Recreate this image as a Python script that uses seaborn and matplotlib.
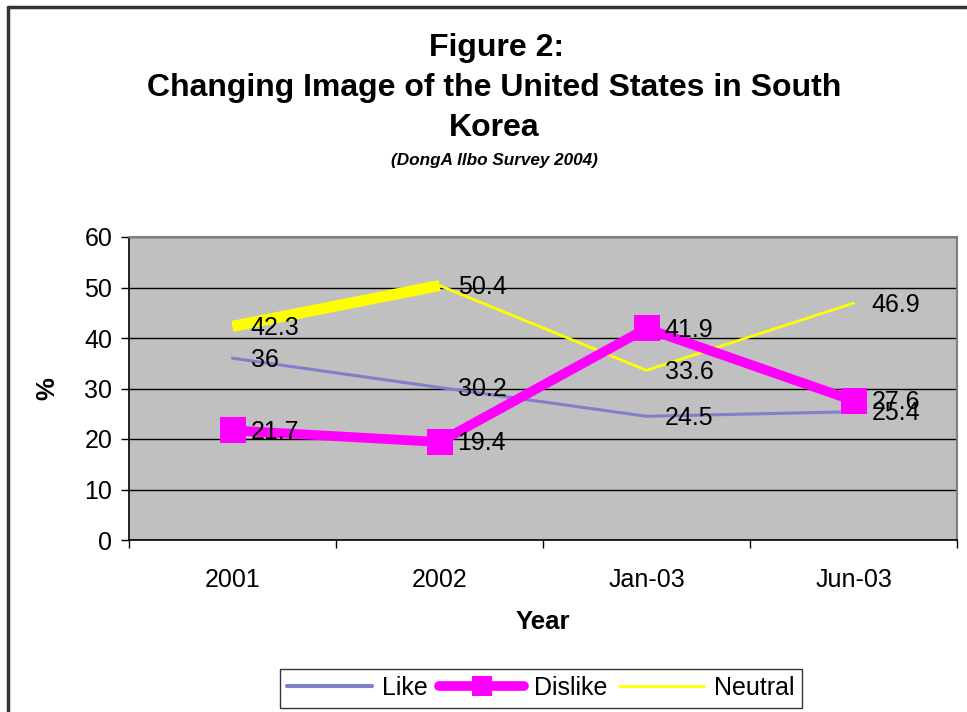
import matplotlib
matplotlib.use("Agg")
import matplotlib.pyplot as plt
import seaborn as sns
import pandas as pd
from matplotlib.lines import Line2D

categories = ["2001", "2002", "Jan-03", "Jun-03"]
like = [36, 30.2, 24.5, 25.4]
dislike = [21.7, 19.4, 41.9, 27.6]
neutral = [42.3, 50.4, 33.6, 46.9]
yticks = [0, 10, 20, 30, 40, 50, 60]

sns.set_theme(style="white")
plt.rcParams["font.family"] = ["Liberation Sans", "DejaVu Sans"]
plt.rcParams["text.color"] = "black"
plt.rcParams["axes.labelcolor"] = "black"
plt.rcParams["xtick.color"] = "black"
plt.rcParams["ytick.color"] = "black"

W, H = 967, 712
fig = plt.figure(figsize=(W / 100, H / 100), dpi=100)
ax = fig.add_axes([129 / W, 1 - 540 / H, (957 - 129) / W, (540 - 237) / H])
ax.set_facecolor("#C0C0C0")

pos = list(range(len(categories)))
df = pd.DataFrame({"pos": pos, "cat": categories, "Like": like,
                   "Dislike": dislike, "Neutral": neutral})

c_like = "#8080C8"
c_dis = "#FF00FF"
c_neu = "#FFFF00"

sns.lineplot(data=df, x="pos", y="Like", ax=ax, color=c_like, linewidth=2.2, zorder=4)
# Neutral: first segment thick, rest thin (as in reference)
sns.lineplot(data=df.iloc[:2], x="pos", y="Neutral", ax=ax, color=c_neu, linewidth=8,
             solid_capstyle="butt", zorder=3)
sns.lineplot(data=df.iloc[1:], x="pos", y="Neutral", ax=ax, color=c_neu, linewidth=2,
             zorder=3)
sns.lineplot(data=df, x="pos", y="Dislike", ax=ax, color=c_dis, linewidth=7,
             marker="s", markersize=19, markeredgewidth=0, zorder=5)

for series in (like, dislike, neutral):
    for x, v in zip(pos, series):
        ax.annotate(f"{v:g}", (x, v), xytext=(13, -1), textcoords="offset points",
                    ha="left", va="center", fontsize=18, color="black", zorder=6)

ax.set_xlim(-0.5, len(categories) - 0.5)
ax.set_ylim(0, 60)
ax.set_yticks(yticks)
ax.set_yticklabels([str(t) for t in yticks])
ax.set_xticks(pos)
ax.set_xticklabels(categories)
ax.set_xticks([p - 0.5 for p in pos] + [len(categories) - 0.5], minor=True)
ax.tick_params(axis="x", which="major", length=0, pad=20, labelsize=18)
ax.tick_params(axis="x", which="minor", length=6, width=1, color="black", direction="out",
               bottom=True)
ax.tick_params(axis="y", which="major", length=6, width=1, color="black", direction="out",
               left=True, labelsize=18, pad=6)

ax.grid(axis="y", color="black", linewidth=1)
ax.grid(axis="x", visible=False)
ax.set_axisbelow(True)

for side in ("left", "bottom"):
    ax.spines[side].set_color("black")
    ax.spines[side].set_linewidth(1.2)
for side in ("top", "right"):
    ax.spines[side].set_color("#808080")
    ax.spines[side].set_linewidth(1.5)

ax.set_xlabel("Year", fontsize=18.5, fontweight="bold")
ax.set_ylabel("%", fontsize=18.5, fontweight="bold")
ax.xaxis.set_label_coords(0.5, (540 - 610) / 303)
ax.yaxis.set_label_coords((59 - 129) / 828, 0.5)

fig.text(497 / W, 1 - 48 / H, "Figure 2:", ha="center", va="center",
         fontsize=23, fontweight="bold")
fig.text(494 / W, 1 - 88 / H, "Changing Image of the United States in South", ha="center",
         va="center", fontsize=23, fontweight="bold")
fig.text(494 / W, 1 - 128 / H, "Korea", ha="center", va="center",
         fontsize=23, fontweight="bold")
fig.text(494 / W, 1 - 160 / H, "(DongA Ilbo Survey 2004)", ha="center",
         va="center", fontsize=12.3, fontweight="bold", fontstyle="italic")

handles = [
    Line2D([], [], color=c_like, linewidth=3),
    Line2D([], [], color=c_dis, linewidth=7, marker="s", markersize=14, markeredgewidth=0),
    Line2D([], [], color=c_neu, linewidth=2),
]
leg = fig.legend(handles, ["Like", "Dislike", "Neutral"], loc="center",
                 bbox_to_anchor=(541 / W, 1 - 688 / H), ncol=3, fontsize=18,
                 frameon=True, fancybox=False, edgecolor="black", handlelength=3.4,
                 handletextpad=0.4, columnspacing=0.45, borderpad=0.3,
                 borderaxespad=0)
leg.get_frame().set_linewidth(1)

# chart area border (left and top visible)
fig.add_artist(Line2D([8 / W, 8 / W], [0, 1 - 6.5 / H], color="#333333", linewidth=2.5,
                      transform=fig.transFigure))
fig.add_artist(Line2D([8 / W, 1], [1 - 6.5 / H, 1 - 6.5 / H], color="#333333",
                      linewidth=2.5, transform=fig.transFigure))

fig.savefig("out.png", dpi=100)
